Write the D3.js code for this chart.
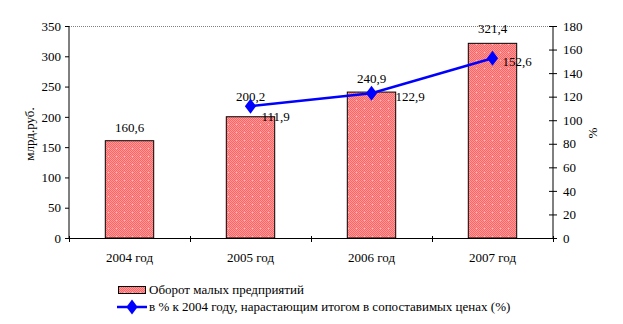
<!DOCTYPE html>
<html>
<head>
<meta charset="utf-8">
<script src="https://cdn.jsdelivr.net/npm/d3@7"></script>
<style>
  html, body { margin: 0; padding: 0; background: #fff; }
  svg { display: block; }
</style>
</head>
<body>
<svg id="chart" width="623" height="324" font-family="'Liberation Serif', 'Times New Roman', serif" font-size="13"></svg>
<script>
// Turnover of small enterprises (bln rub.) and cumulative growth vs 2004 (%)
const categories = ["2004 год", "2005 год", "2006 год", "2007 год"];
const turnover = [160.6, 200.2, 240.9, 321.4];
const turnoverLabels = ["160,6", "200,2", "240,9", "321,4"];
const growth = [null, 111.9, 122.9, 152.6];
const growthLabels = ["", "111,9", "122,9", "152,6"];
const leftTicks = [0, 50, 100, 150, 200, 250, 300, 350];
const rightTicks = [0, 20, 40, 60, 80, 100, 120, 140, 160, 180];
const seriesNames = [
  "Оборот малых предприятий",
  "в % к 2004 году, нарастающим итогом в сопоставимых ценах (%)"
];
const leftTitle = "млрд.руб.";
const rightTitle = "%";

const FONT = "'Liberation Serif', 'Times New Roman', serif";
const svg = d3.select("#chart");
const plot = { left: 69, right: 553, top: 26, bottom: 238 };

const x = d3.scaleBand().domain(categories).range([plot.left, plot.right]).paddingInner(0).paddingOuter(0);
const yL = d3.scaleLinear().domain([0, 350]).range([plot.bottom, plot.top]);
const yR = d3.scaleLinear().domain([0, 180]).range([plot.bottom, plot.top]);

// fine checkered pink fill for the bars
const defs = svg.append("defs");
const pat = defs.append("pattern").attr("id", "pinkFill")
  .attr("patternUnits", "userSpaceOnUse").attr("width", 8).attr("height", 8);
pat.append("rect").attr("width", 8).attr("height", 8).attr("fill", "#ff9a9a");
for (let i = 0; i < 8; i++) {
  for (let j = 0; j < 8; j++) {
    if ((i + j) % 2 === 0) pat.append("rect").attr("x", i).attr("y", j).attr("width", 1).attr("height", 1).attr("fill", "#ff6464");
  }
}
pat.append("rect").attr("x", 4).attr("y", 4).attr("width", 1).attr("height", 1).attr("fill", "#ffb4b4");

// top gridline
svg.append("line")
  .attr("x1", plot.left).attr("x2", plot.right)
  .attr("y1", yL(350) + 0.5).attr("y2", yL(350) + 0.5)
  .attr("stroke", "#808080").attr("stroke-dasharray", "1,1");

// bars
const barW = x.bandwidth() * 0.4;
svg.append("g").selectAll("rect").data(turnover).join("rect")
  .attr("x", (d, i) => x(categories[i]) + (x.bandwidth() - barW) / 2)
  .attr("y", d => yL(d))
  .attr("width", barW)
  .attr("height", d => yL(0) - yL(d))
  .attr("fill", "url(#pinkFill)")
  .attr("stroke", "#000").attr("stroke-width", 1);

// left axis
const axL = svg.append("g").attr("transform", `translate(${plot.left},0)`)
  .call(d3.axisLeft(yL).tickValues(leftTicks).tickSize(4).tickPadding(4).tickFormat(d3.format("d")));
axL.attr("font-family", FONT).attr("font-size", 13);
axL.selectAll("path,line").attr("stroke", "#000");
axL.select(".domain").attr("d", `M0,${plot.top}V${plot.bottom}`);

// right axis
const axR = svg.append("g").attr("transform", `translate(${plot.right},0)`)
  .call(d3.axisRight(yR).tickValues(rightTicks).tickSize(4).tickPadding(6).tickFormat(d3.format("d")));
axR.attr("font-family", FONT).attr("font-size", 13);
axR.selectAll("path,line").attr("stroke", "#000");
axR.select(".domain").attr("d", `M0,${plot.top}V${plot.bottom}`);
axR.selectAll(".tick line").attr("x1", -4);

// category axis
const bandEdges = categories.map(c => x(c)).concat([plot.right]);
const axX = svg.append("g");
axX.append("line").attr("x1", plot.left).attr("x2", plot.right)
  .attr("y1", plot.bottom + 0.5).attr("y2", plot.bottom + 0.5).attr("stroke", "#000");
axX.selectAll("line.t").data(bandEdges).join("line").attr("class", "t")
  .attr("x1", d => d + 0.5).attr("x2", d => d + 0.5)
  .attr("y1", plot.bottom - 2).attr("y2", plot.bottom + 4).attr("stroke", "#000");
axX.selectAll("text").data(categories).join("text")
  .attr("x", d => x(d) + x.bandwidth() / 2)
  .attr("y", plot.bottom + 24)
  .attr("text-anchor", "middle").text(d => d);

// bar value labels (the 2005 one is lifted clear of the line marker)
const barLabelLift = [9, 16, 9, 10];
svg.append("g").selectAll("text").data(turnover).join("text")
  .attr("x", (d, i) => x(categories[i]) + x.bandwidth() / 2)
  .attr("y", (d, i) => yL(d) - barLabelLift[i])
  .attr("text-anchor", "middle")
  .text((d, i) => turnoverLabels[i]);

// growth line
const pts = growth.map((v, i) => ({ v, i })).filter(p => p.v != null);
const line = d3.line().x(p => x(categories[p.i]) + x.bandwidth() / 2).y(p => yR(p.v));
svg.append("path").datum(pts).attr("d", line)
  .attr("fill", "none").attr("stroke", "#0000ff").attr("stroke-width", 2.5);
const diamond = d3.symbol().type(d3.symbolDiamond).size(64);
svg.append("g").selectAll("path").data(pts).join("path")
  .attr("d", diamond)
  .attr("transform", p => `translate(${x(categories[p.i]) + x.bandwidth() / 2},${yR(p.v)}) scale(1.3,1)`)
  .attr("fill", "#0000ff");

// growth labels, placed to the right of each marker
const lineLabelShift = [[0, 0], [11, 15], [24, 8], [10, 8]];
svg.append("g").selectAll("text").data(pts).join("text")
  .attr("x", p => x(categories[p.i]) + x.bandwidth() / 2 + lineLabelShift[p.i][0])
  .attr("y", p => yR(p.v) + lineLabelShift[p.i][1])
  .text(p => growthLabels[p.i]);

// axis titles
svg.append("text").attr("transform", "translate(34,134) rotate(-90)")
  .attr("text-anchor", "middle").text(leftTitle);
svg.append("text").attr("transform", "translate(597,133) rotate(-90)")
  .attr("text-anchor", "middle").text(rightTitle);

// legend
const lg = svg.append("g");
lg.append("rect").attr("x", 118.5).attr("y", 286.5).attr("width", 27).attr("height", 7)
  .attr("fill", "url(#pinkFill)").attr("stroke", "#000");
lg.append("text").attr("x", 149).attr("y", 294).text(seriesNames[0]);
lg.append("line").attr("x1", 117).attr("x2", 147).attr("y1", 307).attr("y2", 307)
  .attr("stroke", "#0000ff").attr("stroke-width", 2.5);
lg.append("path").attr("d", diamond).attr("transform", "translate(132,307) scale(1.3,1)").attr("fill", "#0000ff");
lg.append("text").attr("x", 149).attr("y", 311).text(seriesNames[1]);
</script>
</body>
</html>
